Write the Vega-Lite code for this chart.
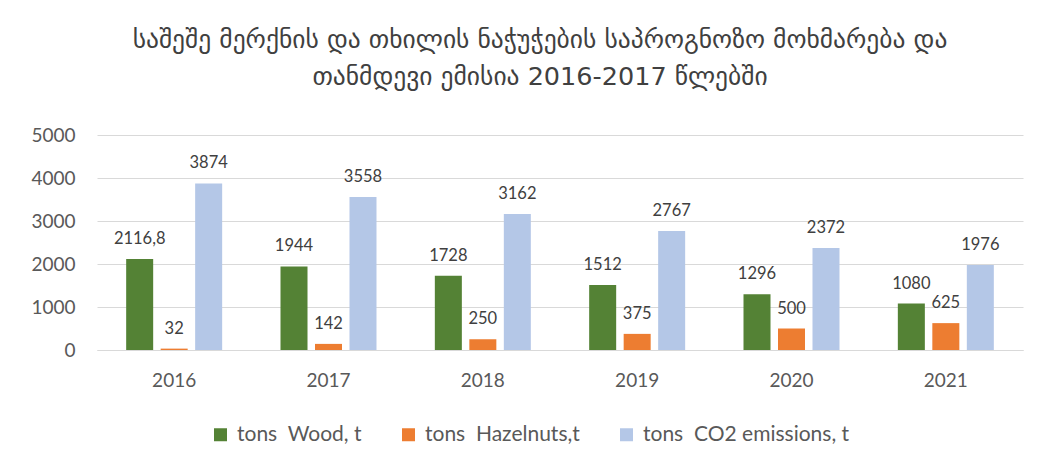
{
  "$schema": "https://vega.github.io/schema/vega-lite/v6.json",
  "width": 926,
  "height": 215,
  "autosize": {"type": "none"},
  "padding": {"left": 97, "top": 135, "right": 23, "bottom": 115},
  "background": "white",
  "title": {
    "text": ["საშეშე მერქნის და თხილის ნაჭუჭების საპროგნოზო მოხმარება და", "თანმდევი ემისია 2016-2017 წლებში"],
    "anchor": "middle",
    "dx": -20,
    "offset": 36,
    "font": "DejaVu Sans",
    "fontSize": 25.5,
    "fontWeight": "normal",
    "lineHeight": 37,
    "color": "#404040"
  },
  "data": {
    "values": [
      {"year": "2016", "series": "tons\u00a0 Wood, t", "value": 2116.8, "label": "2116,8"},
      {"year": "2016", "series": "tons\u00a0 Hazelnuts,t", "value": 32, "label": "32"},
      {"year": "2016", "series": "tons\u00a0 CO2 emissions, t", "value": 3874, "label": "3874"},
      {"year": "2017", "series": "tons\u00a0 Wood, t", "value": 1944, "label": "1944"},
      {"year": "2017", "series": "tons\u00a0 Hazelnuts,t", "value": 142, "label": "142"},
      {"year": "2017", "series": "tons\u00a0 CO2 emissions, t", "value": 3558, "label": "3558"},
      {"year": "2018", "series": "tons\u00a0 Wood, t", "value": 1728, "label": "1728"},
      {"year": "2018", "series": "tons\u00a0 Hazelnuts,t", "value": 250, "label": "250"},
      {"year": "2018", "series": "tons\u00a0 CO2 emissions, t", "value": 3162, "label": "3162"},
      {"year": "2019", "series": "tons\u00a0 Wood, t", "value": 1512, "label": "1512"},
      {"year": "2019", "series": "tons\u00a0 Hazelnuts,t", "value": 375, "label": "375"},
      {"year": "2019", "series": "tons\u00a0 CO2 emissions, t", "value": 2767, "label": "2767"},
      {"year": "2020", "series": "tons\u00a0 Wood, t", "value": 1296, "label": "1296"},
      {"year": "2020", "series": "tons\u00a0 Hazelnuts,t", "value": 500, "label": "500"},
      {"year": "2020", "series": "tons\u00a0 CO2 emissions, t", "value": 2372, "label": "2372"},
      {"year": "2021", "series": "tons\u00a0 Wood, t", "value": 1080, "label": "1080"},
      {"year": "2021", "series": "tons\u00a0 Hazelnuts,t", "value": 625, "label": "625"},
      {"year": "2021", "series": "tons\u00a0 CO2 emissions, t", "value": 1976, "label": "1976"}
    ]
  },
  "encoding": {
    "x": {
      "field": "year", "type": "nominal", "title": null,
      "scale": {"paddingInner": 0.378, "paddingOuter": 0.189},
      "axis": {
        "labelAngle": 0, "ticks": false, "domainColor": "#d9d9d9", "domainWidth": 1,
        "labelFont": "Lato", "labelFontSize": 19, "labelColor": "#595959", "labelPadding": 21
      }
    },
    "xOffset": {
      "field": "series", "type": "nominal",
      "sort": ["tons\u00a0 Wood, t", "tons\u00a0 Hazelnuts,t", "tons\u00a0 CO2 emissions, t"],
      "scale": {"paddingInner": 0.217, "paddingOuter": 0}
    },
    "y": {
      "field": "value", "type": "quantitative", "title": null,
      "scale": {"domain": [0, 5000], "nice": false},
      "axis": {
        "values": [0, 1000, 2000, 3000, 4000, 5000], "format": "d", "ticks": false, "domain": false,
        "gridColor": "#d9d9d9", "gridWidth": 1,
        "labelFont": "Lato", "labelFontSize": 19, "labelColor": "#595959", "labelPadding": 22
      }
    }
  },
  "layer": [
    {
      "mark": {"type": "bar"},
      "encoding": {
        "color": {
          "field": "series", "type": "nominal", "title": null,
          "sort": ["tons\u00a0 Wood, t", "tons\u00a0 Hazelnuts,t", "tons\u00a0 CO2 emissions, t"],
          "scale": {
            "domain": ["tons\u00a0 Wood, t", "tons\u00a0 Hazelnuts,t", "tons\u00a0 CO2 emissions, t"],
            "range": ["#548235", "#ED7D31", "#B4C7E7"]
          },
          "legend": {
            "orient": "none", "direction": "horizontal", "legendX": 113, "legendY": 289,
            "symbolType": "square", "symbolSize": 169, "symbolStrokeWidth": 0,
            "labelFont": "Lato", "labelFontSize": 21, "labelColor": "#595959", "labelLimit": 400,
            "columnPadding": 36, "labelOffset": 6
          }
        }
      }
    },
    {
      "mark": {"type": "text", "baseline": "bottom", "dy": -12, "font": "Lato", "fontSize": 16.5, "color": "#404040"},
      "encoding": {
        "text": {"field": "label", "type": "nominal"},
        "detail": {"field": "series", "type": "nominal"}
      }
    }
  ],
  "config": {"view": {"stroke": null}}
}
